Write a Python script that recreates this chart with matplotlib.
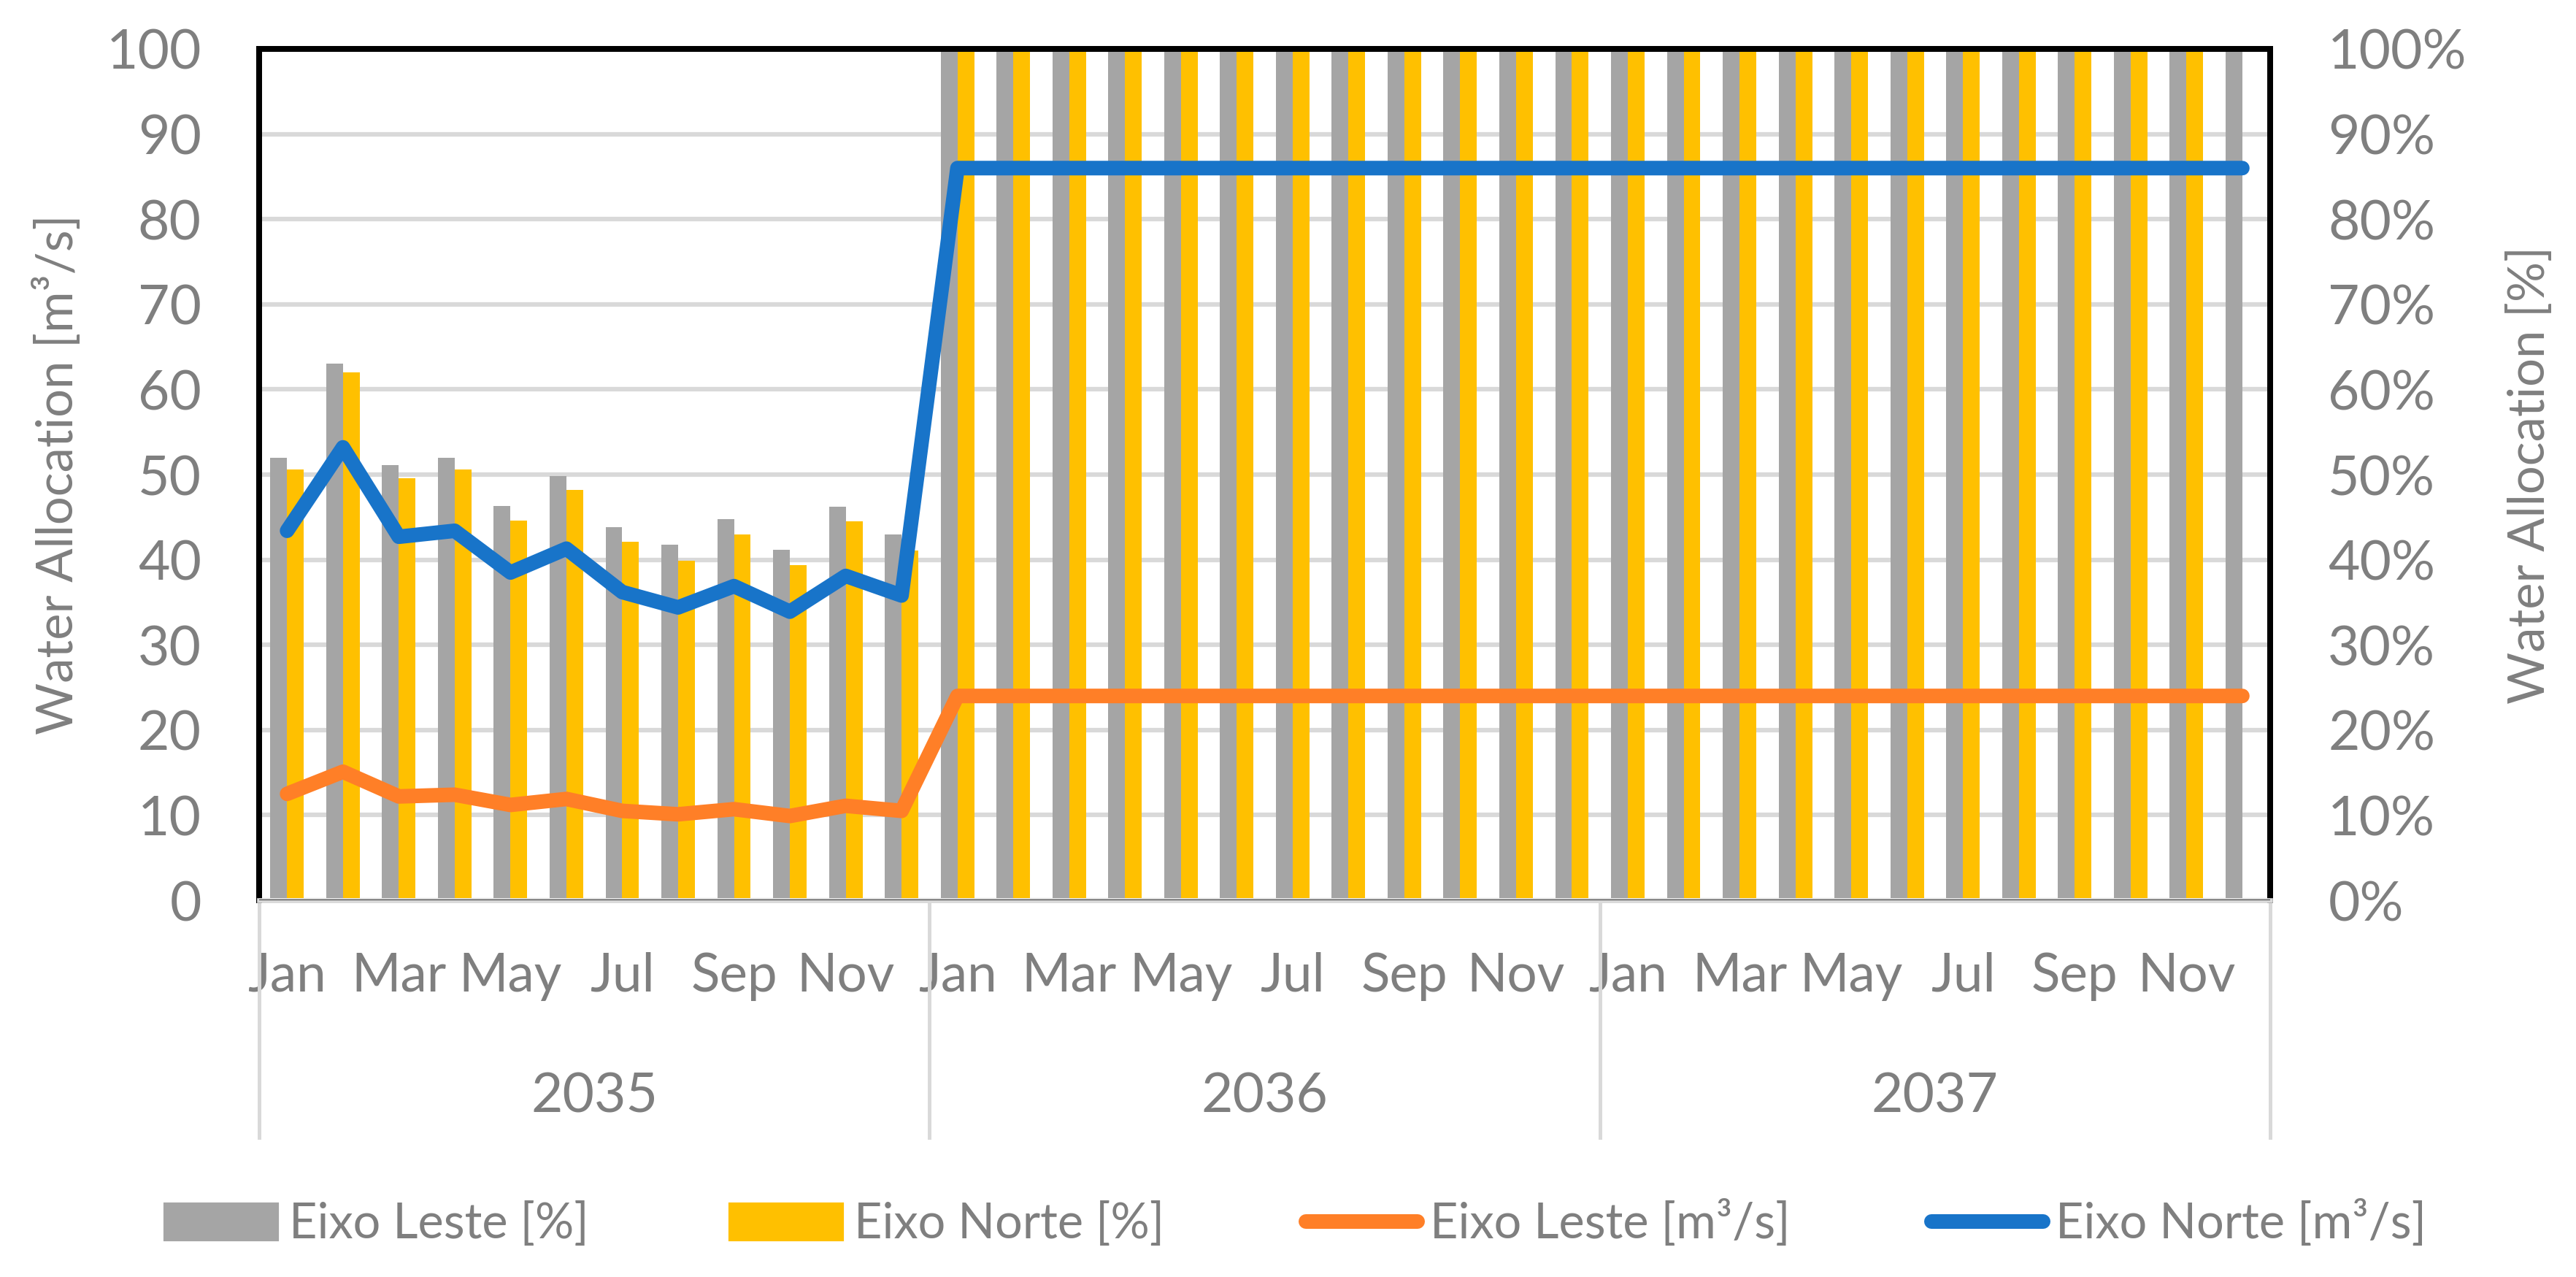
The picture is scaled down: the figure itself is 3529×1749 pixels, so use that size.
import numpy as np
import matplotlib
matplotlib.use("Agg")
import matplotlib.pyplot as plt
from matplotlib.patches import Patch
from matplotlib.lines import Line2D

plt.rcParams["font.family"] = ["Lato", "DejaVu Sans"]

years = ["2035", "2036", "2037"]
months = ["Jan", "Feb", "Mar", "Apr", "May", "Jun", "Jul", "Aug", "Sep", "Oct", "Nov", "Dec"]

# percentages (right axis)
leste_pct = [52.0, 63.0, 51.1, 52.0, 46.3, 49.8, 43.8, 41.8, 44.8, 41.2, 46.2, 43.0] + [100] * 24
norte_pct = [50.6, 62.0, 49.6, 50.6, 44.6, 48.2, 42.1, 39.9, 43.0, 39.4, 44.5, 41.1] + [100] * 23 + [0]

# flows m3/s (left axis)
leste_q = [12.5, 15.1, 12.2, 12.4, 11.2, 11.9, 10.5, 10.1, 10.7, 9.9, 11.1, 10.5] + [24.0] * 24
norte_q = [43.4, 53.2, 42.7, 43.4, 38.5, 41.3, 36.2, 34.4, 36.9, 33.9, 38.1, 35.8] + [86.0] * 24

c_gray = "#A5A5A5"
c_yellow = "#FFC000"
c_orange = "#FF7F27"
c_blue = "#1874C9"
c_text = "#7F7F7F"
c_grid = "#D9D9D9"

n = len(leste_pct)
x = np.arange(n)
lw_line = 4.8

fig = plt.figure(figsize=(3529 / 300, 1749 / 300), dpi=300)
fig.subplots_adjust(left=0.1006, right=0.8813, top=0.9617, bottom=0.295)
ax = fig.add_subplot(1, 1, 1)
ax2 = ax.twinx()

# bars on the right (percentage) axis
w = 0.3
ax2.bar(x - w / 2, leste_pct, width=w, color=c_gray, zorder=2)
ax2.bar(x + w / 2, norte_pct, width=w, color=c_yellow, zorder=2)
ax2.set_ylim(0, 100)
ax2.set_yticks(np.arange(0, 101, 10))
ax2.set_yticklabels(["{}%".format(v) for v in range(0, 101, 10)])
ax2.yaxis.grid(True, color=c_grid, linewidth=1.5, zorder=0)
ax2.set_axisbelow(True)
ax2.set_ylabel("Water Allocation [%]", color=c_text, fontsize=16.5, rotation=90, labelpad=13)

# lines on the left axis
ax.plot(x, leste_q, color=c_orange, lw=lw_line, solid_capstyle="round", solid_joinstyle="round", zorder=3)
ax.plot(x, norte_q, color=c_blue, lw=lw_line, solid_capstyle="round", solid_joinstyle="round", zorder=3)
ax.set_ylim(0, 100)
ax.set_yticks(np.arange(0, 101, 10))
ax.set_ylabel("Water Allocation [m\u00b3/s]", color=c_text, fontsize=16.5, labelpad=8)
ax.set_zorder(ax2.get_zorder() + 1)
ax.patch.set_visible(False)
ax.set_xlim(-0.5, n - 0.5)

for a in (ax, ax2):
    a.tick_params(axis="y", length=0, labelsize=18, labelcolor=c_text, pad=19)
    for s in ["top", "left", "right"]:
        a.spines[s].set_color("black")
        a.spines[s].set_linewidth(1.9)
    a.spines["bottom"].set_color(c_grid)
    a.spines["bottom"].set_linewidth(1.6)

ax.axhline(0, color="black", lw=0.6, zorder=4)

# month labels every other month
ax.set_xticks(x[::2])
ax.set_xticklabels([months[i % 12] for i in x[::2]])
ax.tick_params(axis="x", length=0, labelsize=17.5, labelcolor=c_text, pad=17)
ax2.tick_params(axis="x", length=0, labelbottom=False)

# year labels and separators
trans = ax.get_xaxis_transform()
for i, yr in enumerate(years):
    ax.text(i * 12 + 5.5, -0.231, yr, transform=trans, ha="center", va="center",
            fontsize=18, color=c_text)
for i in range(len(years) + 1):
    ax.add_line(Line2D([i * 12 - 0.5, i * 12 - 0.5], [0, -0.279], transform=trans,
                       color=c_grid, lw=1.2, clip_on=False))

handles = [
    Patch(color=c_gray, label="Eixo Leste [%]"),
    Patch(color=c_yellow, label="Eixo Norte [%]"),
    Line2D([], [], color=c_orange, lw=lw_line, solid_capstyle="round", label="Eixo Leste [m\u00b3/s]"),
    Line2D([], [], color=c_blue, lw=lw_line, solid_capstyle="round", label="Eixo Norte [m\u00b3/s]"),
]
leg = fig.legend(handles=handles, loc="center", bbox_to_anchor=(0.503, 1 - 1676 / 1749), ncol=4,
                 frameon=False, fontsize=16, handlelength=2.3, handleheight=0.75,
                 handletextpad=0.25, columnspacing=2.9)
for t in leg.get_texts():
    t.set_color(c_text)

plt.savefig("out.png", dpi=300)
